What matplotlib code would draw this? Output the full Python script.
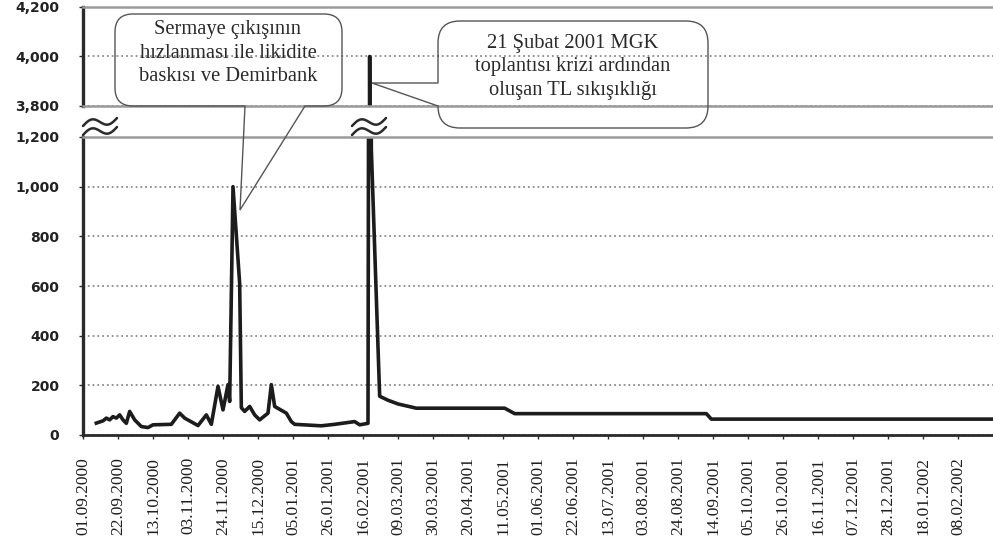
import numpy as np
import pandas as pd
import matplotlib.pyplot as plt
import matplotlib.dates as mdates
from matplotlib.path import Path
from matplotlib.patches import PathPatch
from matplotlib.ticker import FixedLocator, StrMethodFormatter

# gecelik faiz (%)
tarihler = ['09.09.2000', '13.09.2000', '15.09.2000', '17.09.2000', '19.09.2000',
            '21.09.2000', '23.09.2000', '25.09.2000', '27.09.2000', '29.09.2000',
            '02.10.2000', '06.10.2000', '10.10.2000', '13.10.2000', '24.10.2000',
            '29.10.2000', '01.11.2000', '09.11.2000', '14.11.2000', '17.11.2000',
            '21.11.2000', '24.11.2000', '27.11.2000', '28.11.2000', '30.11.2000',
            '04.12.2000', '05.12.2000', '07.12.2000', '10.12.2000', '13.12.2000',
            '16.12.2000', '21.12.2000', '23.12.2000', '25.12.2000', '01.01.2001',
            '04.01.2001', '06.01.2001', '22.01.2001', '30.01.2001', '11.02.2001',
            '14.02.2001', '19.02.2001', '20.02.2001', '21.02.2001', '26.02.2001',
            '03.03.2001', '09.03.2001', '20.03.2001', '12.05.2001', '18.05.2001',
            '10.09.2001', '13.09.2001', '01.03.2002']
faiz = [48, 57, 68, 61, 74,
        68, 81, 61, 47, 95,
        61, 34, 30, 41, 43,
        88, 68, 38, 81, 43,
        196, 101, 203, 135, 1000,
        610, 110, 95, 115, 81,
        61, 88, 203, 115, 88,
        54, 43, 37, 43, 54,
        41, 47, 4000, 1150, 156,
        140, 125, 108, 108, 86,
        86, 64, 64]

eksen_baslangic = '01.09.2000'
eksen_bitis = '01.03.2002'
son_etiket = '08.02.2002'

ust_yticks = [3800, 4000, 4200]
alt_yticks = [0, 200, 400, 600, 800, 1000, 1200]

not1 = 'Sermaye çıkışının\nhızlanması ile likidite\nbaskısı ve Demirbank'
not2 = '21 Şubat 2001 MGK\ntoplantısı krizi ardından\noluşan TL sıkışıklığı'

tarih = pd.to_datetime(tarihler, format='%d.%m.%Y')
x0 = pd.to_datetime(eksen_baslangic, format='%d.%m.%Y')
x1 = pd.to_datetime(eksen_bitis, format='%d.%m.%Y')
tick_tarih = pd.date_range(x0, pd.to_datetime(son_etiket, format='%d.%m.%Y'), freq='21D')

W, H = 993, 553
fig = plt.figure(figsize=(W / 100, H / 100), dpi=100)


def kutu(l, t, r, b):
    return [l / W, 1 - b / H, (r - l) / W, (b - t) / H]


ax_ust = fig.add_axes(kutu(83, 7, 993, 106))
ax_alt = fig.add_axes(kutu(83, 137, 993, 435))

koyu = '#2a2a2a'
gri = '#9a9a9a'

for ax in (ax_ust, ax_alt):
    ax.plot(tarih, faiz, color='#1c1c1c', lw=2.6)
    ax.set_xlim(x0, x1)
    ax.yaxis.grid(True, linestyle=':', color='#8c8c8c', lw=1.3)
    ax.set_axisbelow(True)
    ax.spines['right'].set_visible(False)
    ax.spines['left'].set_color(koyu)
    ax.spines['left'].set_linewidth(2.4)
    ax.spines['top'].set_color(gri)
    ax.spines['top'].set_linewidth(1.8)
    ax.yaxis.set_major_formatter(StrMethodFormatter('{x:,.0f}'))
    ax.tick_params(axis='y', length=3, width=1, color=koyu, pad=14,
                   labelsize=10, labelcolor='#222222')

ax_ust.set_ylim(3800, 4200)
ax_ust.set_yticks(ust_yticks)
ax_ust.spines['bottom'].set_color(gri)
ax_ust.spines['bottom'].set_linewidth(1.8)
ax_ust.tick_params(axis='x', bottom=False, labelbottom=False)

ax_alt.set_ylim(0, 1200)
ax_alt.set_yticks(alt_yticks)
ax_alt.spines['bottom'].set_color(koyu)
ax_alt.spines['bottom'].set_linewidth(2.0)
ax_alt.xaxis.set_major_locator(FixedLocator(mdates.date2num(tick_tarih)))
ax_alt.xaxis.set_major_formatter(mdates.DateFormatter('%d.%m.%Y'))
ax_alt.tick_params(axis='x', length=3, width=1, color=koyu, pad=13,
                   labelsize=12.5, labelcolor='#1e1e1e', labelrotation=90)
for lab in ax_alt.get_xticklabels():
    lab.set_fontfamily('Liberation Serif')

for ax in (ax_ust, ax_alt):
    for lab in ax.get_yticklabels():
        lab.set_fontweight('bold')

# ust katman: kirik isaretleri ve notlar (piksel koordinatlari)
ov = fig.add_axes([0, 0, 1, 1], zorder=5)
ov.set_xlim(0, W)
ov.set_ylim(H, 0)
ov.axis('off')

t = np.linspace(0, 1, 40)
for xs in (83, 352):
    for yc in (122, 131):
        ov.plot(xs + 34 * t, yc - 4.5 * np.sin(2 * np.pi * t) + 4 - 8 * t,
                color=koyu, lw=1.8, solid_capstyle='round')

M, L, C = Path.MOVETO, Path.LINETO, Path.CURVE3


def balon1(a, b, c, d, r, tb1, tb2, uc):
    v = [(a + r, b), (c - r, b), (c, b), (c, b + r), (c, d - r), (c, d), (c - r, d),
         (tb2, d), uc, (tb1, d), (a + r, d), (a, d), (a, d - r), (a, b + r), (a, b), (a + r, b)]
    k = [M, L, C, C, L, C, C, L, L, L, L, C, C, L, C, C]
    return Path(v, k)


def balon2(a, b, c, d, r, ty, uc):
    v = [(a + r, b), (c - r, b), (c, b), (c, b + r), (c, d - r), (c, d), (c - r, d),
         (a + r, d), (a, d), (a, d - r), uc, (a, ty), (a, b + r), (a, b), (a + r, b)]
    k = [M, L, C, C, L, C, C, L, C, C, L, L, L, C, C]
    return Path(v, k)


stil = dict(facecolor='none', edgecolor='#555555', lw=1.0)
ov.add_patch(PathPatch(balon1(115, 14, 342, 106, 18, 245, 305, (240, 210)), **stil))
ov.add_patch(PathPatch(balon2(438, 21, 708, 128, 22, 83, (372, 83)), **stil))

yazi = dict(ha='center', va='center', fontsize=14.8, family='Liberation Serif',
            color='#2a2a2a', linespacing=1.33)
ov.text(228, 53, not1, **yazi)
ov.text(573, 67, not2, **yazi)

fig.savefig('out.png', dpi=100)
